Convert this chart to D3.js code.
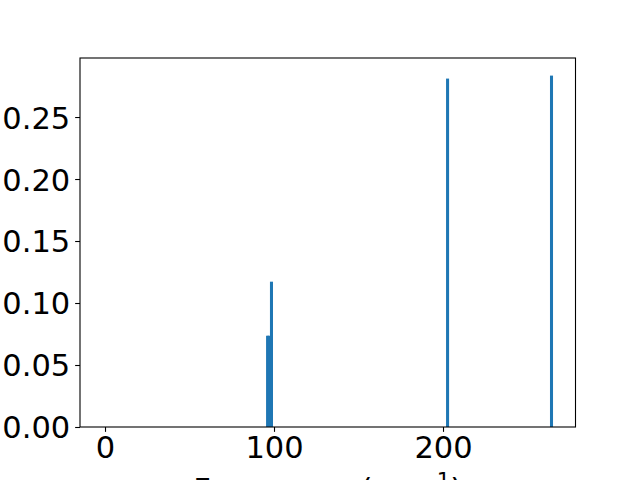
<!DOCTYPE html>
<html>
<head>
<meta charset="utf-8">
<script src="https://cdn.jsdelivr.net/npm/d3@7/dist/d3.min.js"></script>
<style>
  html, body { margin: 0; padding: 0; background: #fff; }
  svg { display: block; }
  text { font-family: "DejaVu Sans", sans-serif; }
</style>
</head>
<body>
<svg id="chart" width="640" height="480"></svg>
<script>
// Data
const frequencies = [96.2, 97.0, 98.5, 202.7, 264.2];   // cm^-1
const intensities = [0.0736, 0.0736, 0.1172, 0.2810, 0.2834];
const barWidth = 1.8;                                  // data units
const xTicks = [0, 100, 200];
const yTicks = [0.00, 0.05, 0.10, 0.15, 0.20, 0.25];
const xDomain = [-14.8, 278.4];
const yDomain = [0, 0.2976];

const margin = { left: 80, right: 64.5, top: 58, bottom: 53 };
const W = 640, H = 480;
const svg = d3.select("#chart");

const x = d3.scaleLinear().domain(xDomain).range([margin.left, W - margin.right]);
const y = d3.scaleLinear().domain(yDomain).range([H - margin.bottom, margin.top]);

const fontSize = 30.5;

// Bars
svg.append("g")
  .selectAll("rect")
  .data(frequencies.map((f, i) => ({ f, v: intensities[i] })))
  .join("rect")
  .attr("x", d => x(d.f - barWidth / 2))
  .attr("width", d => x(d.f + barWidth / 2) - x(d.f - barWidth / 2))
  .attr("y", d => y(d.v))
  .attr("height", d => y(0) - y(d.v))
  .attr("fill", "#1f77b4");

// Axes
const xAxis = d3.axisBottom(x).tickValues(xTicks).tickFormat(d3.format("d"))
  .tickSize(4.86).tickPadding(4.9);
const yAxis = d3.axisLeft(y).tickValues(yTicks).tickFormat(d3.format(".2f"))
  .tickSize(4.86).tickPadding(4.9);

const gx = svg.append("g").attr("transform", `translate(0,${H - margin.bottom})`).call(xAxis);
const gy = svg.append("g").attr("transform", `translate(${margin.left},0)`).call(yAxis);

[gx, gy].forEach(g => {
  g.select(".domain").remove();
  g.selectAll(".tick line").attr("stroke", "#000").attr("stroke-width", 1.1);
  g.selectAll(".tick text").attr("fill", "#000").style("font-size", fontSize + "px")
    .style("font-family", "DejaVu Sans, sans-serif");
});
gx.selectAll(".tick text").attr("dy", "0.71em");
gy.selectAll(".tick text").attr("dy", "0.36em");

// Frame
svg.append("rect")
  .attr("x", margin.left).attr("y", margin.top)
  .attr("width", W - margin.right - margin.left)
  .attr("height", H - margin.bottom - margin.top)
  .attr("fill", "none").attr("stroke", "#000").attr("stroke-width", 1.1);

// X label (partly below the visible area, as in the reference)
const lab = svg.append("text")
  .attr("x", (margin.left + W - margin.right) / 2)
  .attr("y", 499.5)
  .attr("text-anchor", "middle")
  .style("font-size", fontSize + "px")
  .attr("fill", "#000");
lab.append("tspan").text("Frequency (cm");
lab.append("tspan").attr("dy", -12).style("font-size", (fontSize * 0.7) + "px").text("−1");
lab.append("tspan").attr("dy", 12).text(")");
</script>
</body>
</html>
